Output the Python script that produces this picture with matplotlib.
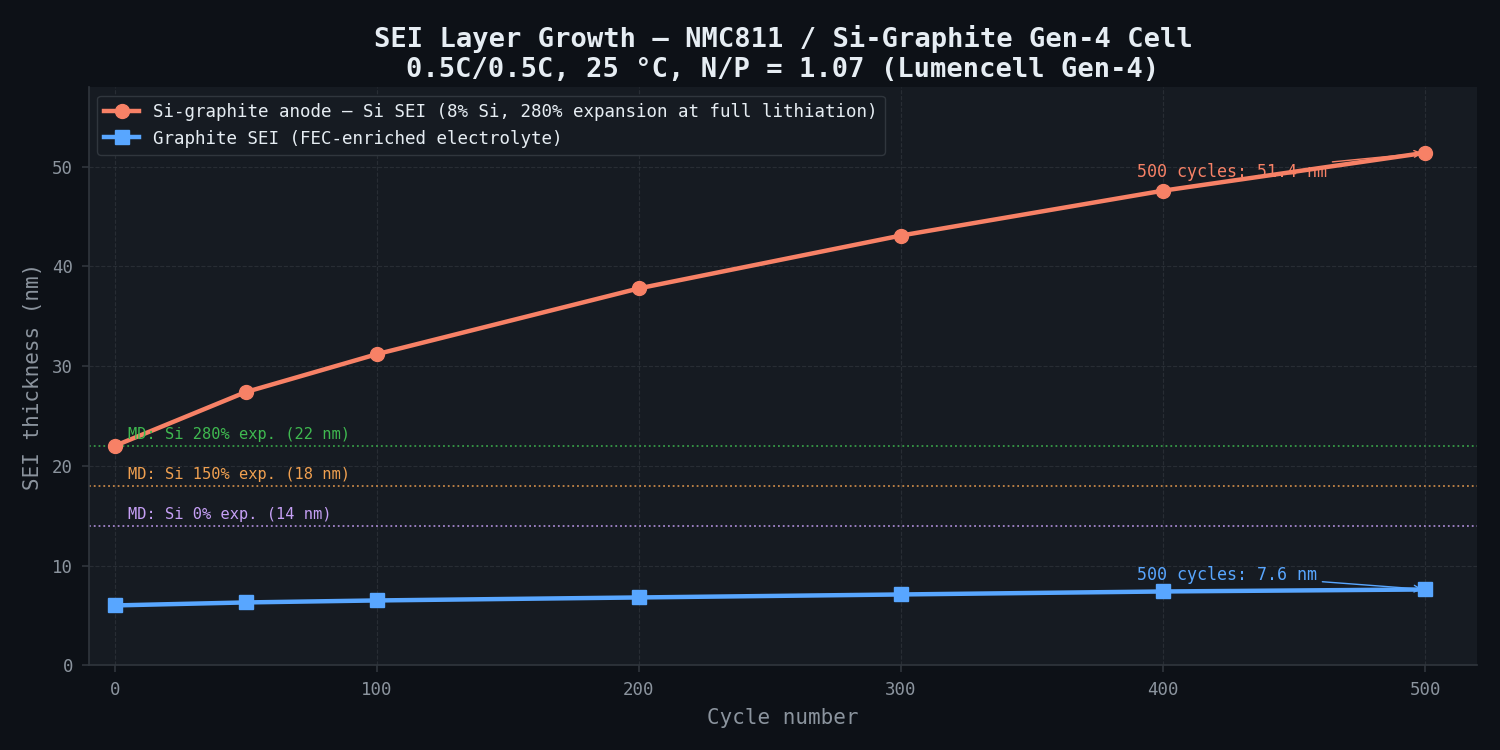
import matplotlib
matplotlib.use("Agg")
import matplotlib.pyplot as plt

cycles = [0, 50, 100, 200, 300, 400, 500]
si_sei = [22.0, 27.4, 31.2, 37.8, 43.1, 47.6, 51.4]
gr_sei = [6.0, 6.3, 6.5, 6.8, 7.1, 7.4, 7.6]

md_vals = [22, 18, 14]
md_labels = ["MD: Si 280% exp. (22 nm)", "MD: Si 150% exp. (18 nm)", "MD: Si 0% exp. (14 nm)"]
md_colors = ["#3fb950", "#f0a050", "#c6a0f6"]

plt.rcParams['font.family'] = 'DejaVu Sans Mono'

fig_bg = "#0d1117"
ax_bg = "#161b22"
txt = "#8b949e"
orange = "#f78166"
blue = "#58a6ff"

fig, ax = plt.subplots(figsize=(15, 7.5), dpi=100)
fig.patch.set_facecolor(fig_bg)
ax.set_facecolor(ax_bg)

ax.plot(cycles, si_sei, '-o', color=orange, lw=3.2, ms=10,
        label="Si-graphite anode — Si SEI (8% Si, 280% expansion at full lithiation)", zorder=3)
ax.plot(cycles, gr_sei, '-s', color=blue, lw=3.2, ms=10,
        label="Graphite SEI (FEC-enriched electrolyte)", zorder=3)

for v, lab, c in zip(md_vals, md_labels, md_colors):
    ax.axhline(v, color=c, ls=':', lw=1.3, alpha=0.8, zorder=2)
    ax.text(5, v + 0.35, lab, color=c, fontsize=11.1, va='bottom')

ax.annotate("500 cycles: %.1f nm" % si_sei[-1], xy=(cycles[-1], si_sei[-1]),
            xytext=(390, 49.0), color=orange, fontsize=12,
            arrowprops=dict(arrowstyle='->', color=orange, lw=1))
ax.annotate("500 cycles: %.1f nm" % gr_sei[-1], xy=(cycles[-1], gr_sei[-1]),
            xytext=(390, 8.6), color=blue, fontsize=12,
            arrowprops=dict(arrowstyle='->', color=blue, lw=1))

ax.set_xlim(-10, 520)
ax.set_ylim(0, 58)
ax.set_xticks([0, 100, 200, 300, 400, 500])
ax.set_yticks([0, 10, 20, 30, 40, 50])
ax.grid(True, color="#30363d", ls='--', lw=0.8, alpha=0.7)
ax.set_axisbelow(True)

for s in ['top', 'right']:
    ax.spines[s].set_visible(False)
for s in ['left', 'bottom']:
    ax.spines[s].set_color("#30363d")
    ax.spines[s].set_linewidth(1.2)
ax.tick_params(colors=txt, labelsize=12.5, length=5, width=1.2, pad=6)
ax.tick_params(axis='both', color="#30363d")

ax.set_xlabel("Cycle number", color=txt, fontsize=15, labelpad=7)
ax.set_ylabel("SEI thickness (nm)", color=txt, fontsize=15, labelpad=7)
ax.set_title("SEI Layer Growth — NMC811 / Si-Graphite Gen-4 Cell\n0.5C/0.5C, 25 °C, N/P = 1.07 (Lumencell Gen-4)",
             color="#e6edf3", fontsize=19.5, fontweight='bold', linespacing=1.2, pad=7)

leg = ax.legend(loc='upper left', fontsize=12.6, facecolor=ax_bg, edgecolor="#30363d",
                labelcolor="#e6edf3", framealpha=1)

fig.subplots_adjust(left=0.059, right=0.985, top=0.884, bottom=0.113)
fig.savefig("out.png", facecolor=fig_bg)
